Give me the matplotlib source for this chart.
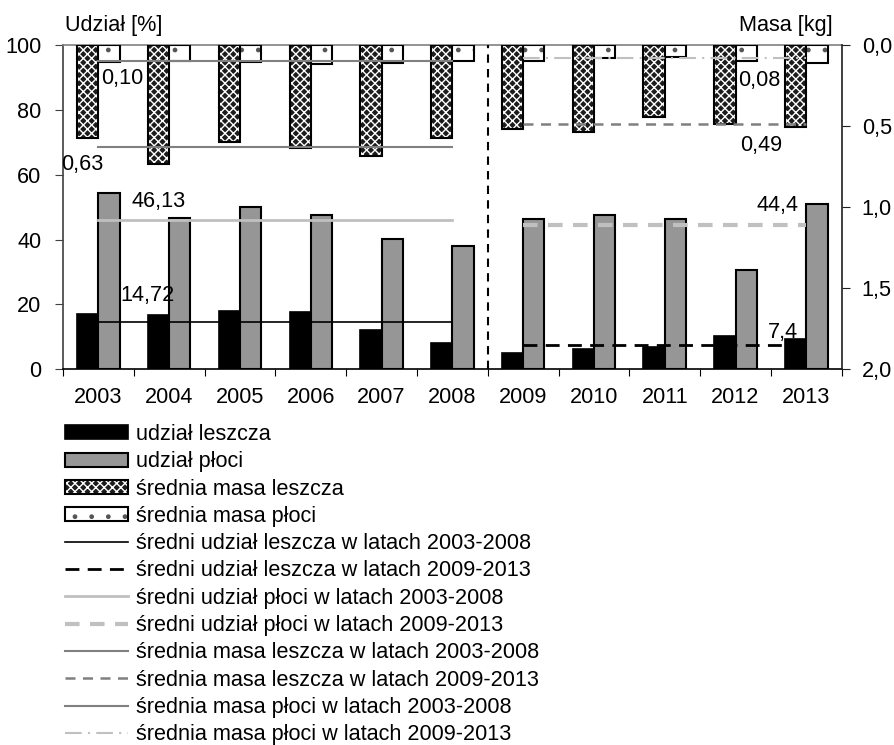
import matplotlib
matplotlib.use('Agg')
import matplotlib.pyplot as plt
from matplotlib.patches import Patch
from matplotlib.lines import Line2D
import numpy as np

plt.rcParams['font.family'] = ['Liberation Sans', 'DejaVu Sans']
plt.rcParams['hatch.linewidth'] = 1.0

# ---------------- data ----------------
years = ['2003', '2004', '2005', '2006', '2007', '2008',
         '2009', '2010', '2011', '2012', '2013']
udzial_leszcza = [17.0, 16.7, 18.0, 17.8, 12.0, 8.1, 5.0, 6.4, 6.8, 10.4, 9.2]
udzial_ploci = [54.4, 46.7, 49.9, 47.5, 40.1, 37.9, 46.3, 47.6, 46.3, 30.6, 50.9]
masa_leszcza = [0.576, 0.736, 0.597, 0.638, 0.685, 0.576, 0.521, 0.537, 0.442, 0.490, 0.506]
masa_ploci = [0.107, 0.097, 0.107, 0.117, 0.111, 0.099, 0.099, 0.078, 0.076, 0.099, 0.113]

# period means: [2003-2008, 2009-2013]
sr_udzial_leszcza = [14.72, 7.4]
sr_udzial_ploci = [46.13, 44.4]
sr_masa_leszcza = [0.63, 0.49]
sr_masa_ploci = [0.10, 0.08]
sr_udzial_leszcza_lbl = ['14,72', '7,4']
sr_udzial_ploci_lbl = ['46,13', '44,4']
sr_masa_leszcza_lbl = ['0,63', '0,49']
sr_masa_ploci_lbl = ['0,10', '0,08']

legend_labels = [
    'udział leszcza',
    'udział płoci',
    'średnia masa leszcza',
    'średnia masa płoci',
    'średni udział leszcza w latach 2003-2008',
    'średni udział leszcza w latach 2009-2013',
    'średni udział płoci w latach 2003-2008',
    'średni udział płoci w latach 2009-2013',
    'średnia masa leszcza w latach 2003-2008',
    'średnia masa leszcza w latach 2009-2013',
    'średnia masa płoci w latach 2003-2008',
    'średnia masa płoci w latach 2009-2013',
]

# ---------------- figure ----------------
W, H = 895, 745
fig = plt.figure(figsize=(W / 100, H / 100), dpi=100)
L, R, T, B = 63, 841.7, 45, 369.3
ax = fig.add_axes([L / W, 1 - B / H, (R - L) / W, (B - T) / H])
ax2 = ax.twinx()

n = len(years)
x = np.arange(n)
bw = 0.3
FS = 15.6

GRAY_BAR = '#969696'
LIGHT = '#c0c0c0'
MID = '#808080'
DARK_HATCH = '#1c1c1c'

# udział bars (left axis)
ax.bar(x - bw / 2, udzial_leszcza, bw, color='black', edgecolor='black', lw=1.2, zorder=2)
ax.bar(x + bw / 2, udzial_ploci, bw, color=GRAY_BAR, edgecolor='black', lw=1.5, zorder=2)

# periods
p1 = (0, 5)
p2 = (6, 10)

# udział mean lines
ax.plot(p1, [sr_udzial_leszcza[0]] * 2, color='black', lw=1.2, zorder=3)
ax.plot(p2, [sr_udzial_leszcza[1]] * 2, color='black', lw=2, ls=(0, (5, 3)), zorder=3)
ax.plot(p1, [sr_udzial_ploci[0]] * 2, color=LIGHT, lw=2, zorder=3)
ax.plot(p2, [sr_udzial_ploci[1]] * 2, color=LIGHT, lw=3, ls=(0, (3.5, 2.5)), zorder=3)

ax.axvline(5.5, color='black', lw=1.5, ls=(0, (4, 3)), zorder=3)

ax.set_xlim(-0.5, n - 0.5)
ax.set_ylim(0, 100)
ax.set_yticks([0, 20, 40, 60, 80, 100])
ax.set_xticks(np.arange(-0.5, n), labels=[''] * (n + 1))
ax.set_xticks(x, labels=years, minor=True)
ax.tick_params(axis='x', which='major', length=5, direction='out', color='black')
ax.tick_params(axis='x', which='minor', length=0, pad=13, labelsize=FS)
ax.tick_params(axis='y', length=6, direction='out', color='#404040', pad=9.5, labelsize=FS)

ax.spines['left'].set_color('#404040')
ax.spines['top'].set_color(MID)
ax.spines['bottom'].set_color('black')
ax.spines['right'].set_visible(False)
for s in ax.spines.values():
    s.set_linewidth(1.2)

# mass bars (right axis, inverted)
ax2.bar(x - bw / 2, masa_leszcza, bw, color=DARK_HATCH, edgecolor='white', hatch='xxxx', lw=0, zorder=2)
ax2.bar(x - bw / 2, masa_leszcza, bw, fill=False, edgecolor='black', lw=1.5, zorder=2)
ax2.bar(x + bw / 2, masa_ploci, bw, color='white', edgecolor='#555555', hatch='.', lw=0, zorder=2)
ax2.bar(x + bw / 2, masa_ploci, bw, fill=False, edgecolor='black', lw=1.5, zorder=2)

ax2.plot(p1, [sr_masa_leszcza[0]] * 2, color=MID, lw=1.5, zorder=3)
ax2.plot(p2, [sr_masa_leszcza[1]] * 2, color=MID, lw=1.8, ls=(0, (4, 3)), zorder=3)
ax2.plot(p1, [sr_masa_ploci[0]] * 2, color=MID, lw=1.5, zorder=3)
ax2.plot(p2, [sr_masa_ploci[1]] * 2, color=LIGHT, lw=1.5, ls=(0, (8, 3, 1, 3)), zorder=3)

ax2.set_ylim(2.0, 0.0)
ax2.set_yticks([0.0, 0.5, 1.0, 1.5, 2.0], labels=['0,0', '0,5', '1,0', '1,5', '2,0'])
ax2.tick_params(axis='y', length=6, direction='out', color='#202020', pad=8.5, labelsize=FS)
for k in ['left', 'top', 'bottom']:
    ax2.spines[k].set_visible(False)
ax2.spines['right'].set_color('#202020')
ax2.spines['right'].set_linewidth(1.2)

# value labels (left-axis data coordinates)
tk = dict(fontsize=FS, ha='left', va='center', zorder=5)
ax.text(0.037, 89.6, sr_masa_ploci_lbl[0], **tk)
ax.text(-0.52, 63.0, sr_masa_leszcza_lbl[0], **tk)
ax.text(0.47, 51.6, sr_udzial_ploci_lbl[0], **tk)
ax.text(0.305, 22.8, sr_udzial_leszcza_lbl[0], **tk)
ax.text(9.03, 88.9, sr_masa_ploci_lbl[1], **tk)
ax.text(9.06, 69.1, sr_masa_leszcza_lbl[1], **tk)
ax.text(9.30, 50.6, sr_udzial_ploci_lbl[1], **tk)
ax.text(9.46, 11.5, sr_udzial_leszcza_lbl[1], **tk)

# axis titles
fig.text(65 / W, 1 - 25 / H, 'Udział [%]', fontsize=FS, ha='left', va='center')
fig.text(833 / W, 1 - 25 / H, 'Masa [kg]', fontsize=FS, ha='right', va='center')

# legend
handles = [
    Patch(facecolor='black', edgecolor='black', lw=1.2),
    Patch(facecolor=GRAY_BAR, edgecolor='black', lw=1.5),
    (Patch(facecolor=DARK_HATCH, edgecolor='white', hatch='xxxx', lw=0),
     Patch(fill=False, edgecolor='black', lw=1.5)),
    (Patch(facecolor='white', edgecolor='#555555', hatch='.', lw=0),
     Patch(fill=False, edgecolor='black', lw=1.5)),
    Line2D([], [], color='black', lw=1.2),
    Line2D([], [], color='black', lw=2, ls=(0, (5, 3))),
    Line2D([], [], color=LIGHT, lw=2),
    Line2D([], [], color=LIGHT, lw=3, ls=(0, (3.5, 2.5))),
    Line2D([], [], color=MID, lw=1.5),
    Line2D([], [], color=MID, lw=1.8, ls=(0, (4, 3))),
    Line2D([], [], color=MID, lw=1.5),
    Line2D([], [], color=LIGHT, lw=1.5, ls=(0, (8, 3, 1, 3))),
]
fig.legend(handles, legend_labels, loc='upper left', bbox_to_anchor=(65 / W, 1 - 424 / H),
           frameon=False, fontsize=FS, handlelength=2.9, handleheight=0.6,
           handletextpad=0.4, labelspacing=0.29, borderpad=0, borderaxespad=0)

fig.savefig('out.png', dpi=100)
